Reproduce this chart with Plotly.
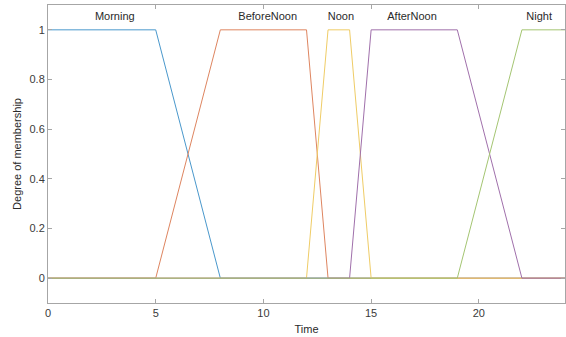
import plotly.graph_objects as go

# Membership function breakpoints (Time vs Degree of membership)
names = ["Morning", "BeforeNoon", "Noon", "AfterNoon", "Night"]
morning_x = [0, 5, 8, 24]
morning_y = [1, 1, 0, 0]
beforenoon_x = [0, 5, 8, 12, 13, 24]
beforenoon_y = [0, 0, 1, 1, 0, 0]
noon_x = [0, 12, 13, 14, 15, 24]
noon_y = [0, 0, 1, 1, 0, 0]
afternoon_x = [0, 14, 15, 19, 22, 24]
afternoon_y = [0, 0, 1, 1, 0, 0]
night_x = [0, 19, 22, 24]
night_y = [0, 0, 1, 1]

label_x = [3.1, 10.2, 13.6, 16.9, 22.8]
label_y = [1.05, 1.05, 1.05, 1.05, 1.05]

x_ticks = [0, 5, 10, 15, 20]
y_ticks = [0, 0.2, 0.4, 0.6, 0.8, 1]
y_ticklabels = ["0", "0.2", "0.4", "0.6", "0.8", "1"]

colors = ["#4a98cc", "#de8560", "#efcc66", "#a070ab", "#a4c572"]

series = [(morning_x, morning_y), (beforenoon_x, beforenoon_y), (noon_x, noon_y),
          (afternoon_x, afternoon_y), (night_x, night_y)]

fig = go.Figure()
for (xs, ys), c, n in zip(series, colors, names):
    fig.add_trace(go.Scatter(x=xs, y=ys, mode="lines", name=n,
                             line=dict(color=c, width=1), showlegend=False))

fig.add_trace(go.Scatter(x=label_x, y=label_y, mode="text", text=names,
                         textfont=dict(family="Liberation Sans, Arial", size=11, color="#2a2a2a"),
                         textposition="middle center", showlegend=False, hoverinfo="skip"))

axis_common = dict(showline=True, linecolor="#a6a6a6", linewidth=1, mirror="ticks",
                   ticks="inside", ticklen=4, tickcolor="#a6a6a6", showgrid=False,
                   zeroline=False, tickfont=dict(family="Liberation Sans, Arial", size=11, color="#3a3a3a"))

fig.update_layout(
    width=566, height=337,
    margin=dict(l=48, r=1, t=5, b=34),
    paper_bgcolor="white", plot_bgcolor="white",
    xaxis=dict(range=[0, 24], tickvals=x_ticks, title=dict(text="Time", standoff=7,
               font=dict(family="Liberation Sans, Arial", size=11, color="#2a2a2a")), **axis_common),
    yaxis=dict(range=[-0.1, 1.1], tickvals=y_ticks, ticktext=y_ticklabels,
               title=dict(text="Degree of membership", standoff=5,
                          font=dict(family="Liberation Sans, Arial", size=11, color="#2a2a2a")), **axis_common),
)

fig.write_html("out.html")
